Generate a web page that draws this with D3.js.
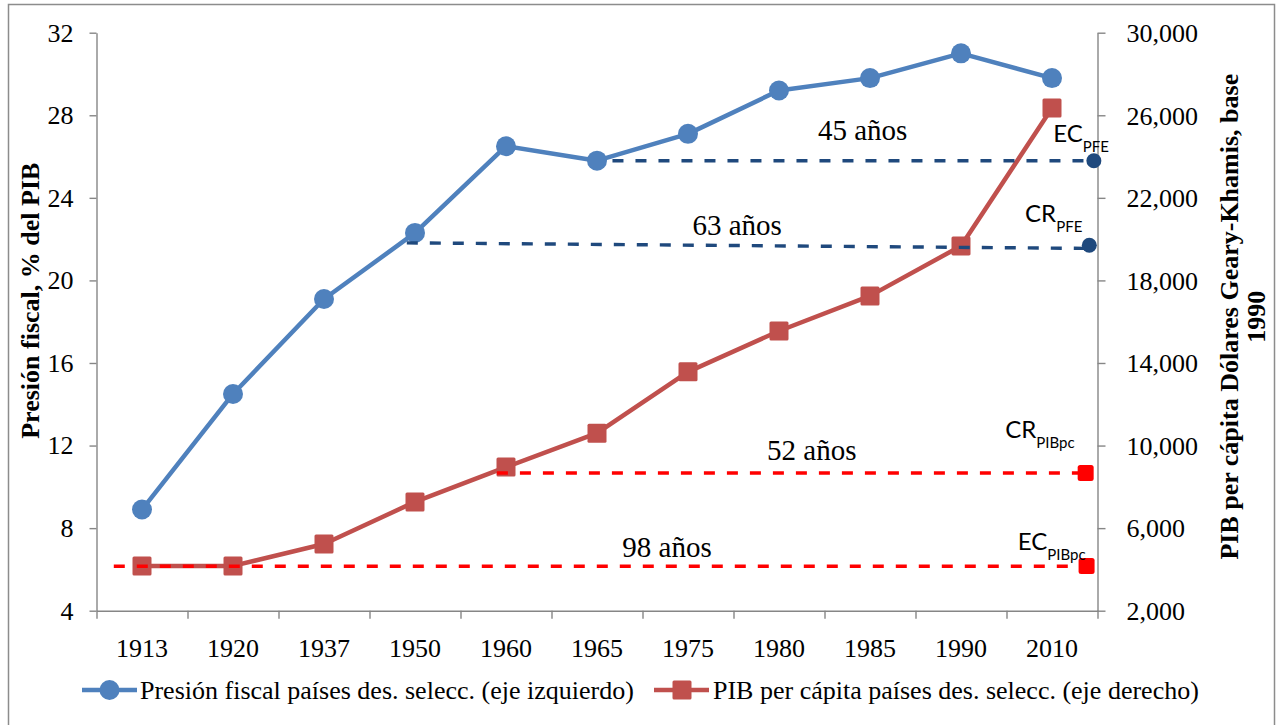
<!DOCTYPE html>
<html>
<head>
<meta charset="utf-8">
<script src="https://cdn.jsdelivr.net/npm/d3@7"></script>
<style>
  html, body { margin: 0; padding: 0; background: #ffffff; }
  svg { display: block; }
</style>
</head>
<body>
<svg id="chart" width="1278" height="725"></svg>
<script>
// ---------- DATA ----------
const categories = ["1913","1920","1937","1950","1960","1965","1975","1980","1985","1990","2010"];
const presionFiscal = [8.9, 14.5, 19.1, 22.3, 26.5, 25.8, 27.1, 29.2, 29.8, 31.0, 29.8];
const pibPerCapita = [4170, 4170, 5230, 7270, 8960, 10600, 13570, 15550, 17250, 19670, 26350];
const leftTicks = [4, 8, 12, 16, 20, 24, 28, 32];
const rightTicks = [2000, 6000, 10000, 14000, 18000, 22000, 26000, 30000];
const seriesNames = ["Presión fiscal países des. selecc. (eje izquierdo)", "PIB per cápita países des. selecc. (eje derecho)"];
const gapLabels = ["45 años", "63 años", "52 años", "98 años"];
const gapMain = ["EC", "CR", "CR", "EC"];
const gapSub = ["PFE", "PFE", "PIBpc", "PIBpc"];
const gapAxis = ["left", "left", "right", "right"];
const gapStartValue = [25.8, 21.82, 8670, 4150];
const gapEndValue = [25.8, 21.55, 8670, 4150];
const gapMarkerValue = [25.8, 21.7, 8670, 4165];
const gapStartCat = ["1965", "1950", "1960", "1913"];

// ---------- LAYOUT (positions / styles) ----------
const W = 1278, H = 725;
const plot = { left: 96.5, right: 1097.5, top: 32.7, bottom: 610.7 };
const gapLayout = [
  { startOff: 0.17, endOff: 0.46, labelOff: 2.92, labelDy: -21, tagDx: 15, tagDy: -19 },
  { startOff: -0.09, endOff: 0.41, labelOff: 3.54, labelDy: -11, tagDx: -7, tagDy: -23 },
  { startOff: -0.10, endOff: 0.37, labelOff: 3.36, labelDy: -13, tagDx: -11, tagDy: -35 },
  { startOff: -0.31, endOff: 0.38, labelOff: 5.77, labelDy: -9, tagDx: -1, tagDy: -16 }
];
const C = {
  blue: "#4F81BD", red: "#C0504D", dashBlue: "#1F497D", dashRed: "#FF0000",
  axis: "#868686", text: "#000000"
};
const serif = "'Liberation Serif', 'Times New Roman', serif";
const sans = "Lato, 'Open Sans', sans-serif";

const svg = d3.select("#chart");

// outer border
svg.append("rect")
  .attr("x", 8.5).attr("y", 4.5).attr("width", 1266).attr("height", 730)
  .attr("fill", "#fff").attr("stroke", "#8c8c8c").attr("stroke-width", 1.5);

// ---------- SCALES ----------
const x = d3.scaleBand().domain(categories).range([plot.left, plot.right]).padding(0);
const bw = x.bandwidth();
const xAt = (cat, off) => x(cat) + bw * (0.5 + off);
const xBound = d3.scaleLinear().domain([0, categories.length]).range([plot.left, plot.right]);
const yL = d3.scaleLinear().domain([4, 32]).range([plot.bottom, plot.top]);
const yR = d3.scaleLinear().domain([2000, 30000]).range([plot.bottom, plot.top]);

// ---------- AXES ----------
function styleAxis(g) {
  g.selectAll("path.domain").attr("stroke", C.axis).attr("stroke-width", 1.4);
  g.selectAll(".tick line").attr("stroke", C.axis).attr("stroke-width", 1.4);
  g.selectAll(".tick text").attr("fill", C.text).style("font-family", serif).style("font-size", "26px");
}

const gL = svg.append("g").attr("transform", `translate(${plot.left},0)`)
  .call(d3.axisLeft(yL).tickValues(leftTicks).tickSize(7).tickSizeOuter(0).tickPadding(16).tickFormat(d3.format("d")));
styleAxis(gL);

const gR = svg.append("g").attr("transform", `translate(${plot.right},0)`)
  .call(d3.axisRight(yR).tickValues(rightTicks).tickSize(8).tickSizeOuter(0).tickPadding(21).tickFormat(d3.format(",")));
styleAxis(gR);
gR.selectAll(".tick text").attr("dy", "0.34em");

const gXt = svg.append("g").attr("transform", `translate(0,${plot.bottom})`)
  .call(d3.axisBottom(xBound).tickValues(d3.range(categories.length + 1)).tickSize(8).tickSizeOuter(0).tickFormat(""));
styleAxis(gXt);

const gX = svg.append("g").attr("transform", `translate(0,${plot.bottom})`)
  .call(d3.axisBottom(x).tickSize(0).tickPadding(28));
gX.select("path.domain").remove();
styleAxis(gX);

// axis titles
svg.append("text")
  .attr("transform", `translate(39,${(plot.top + plot.bottom) / 2 - 21}) rotate(-90)`)
  .attr("text-anchor", "middle")
  .style("font-family", serif).style("font-size", "26px").style("font-weight", "bold")
  .text("Presión fiscal, % del PIB");

const rt = svg.append("text")
  .attr("transform", `translate(1238,${(plot.top + plot.bottom) / 2 - 5}) rotate(-90)`)
  .attr("text-anchor", "middle")
  .style("font-family", serif).style("font-size", "26px").style("font-weight", "bold");
rt.append("tspan").attr("x", 0).attr("y", 0).text("PIB per cápita Dólares Geary-Khamis, base");
rt.append("tspan").attr("x", 0).attr("y", 27).text("1990");

// ---------- SERIES ----------
const lineL = d3.line().x((d, i) => x(categories[i]) + bw / 2).y(d => yL(d));
const lineR = d3.line().x((d, i) => x(categories[i]) + bw / 2).y(d => yR(d));

svg.append("path").datum(presionFiscal)
  .attr("d", lineL).attr("fill", "none").attr("stroke", C.blue).attr("stroke-width", 4.5)
  .attr("stroke-linejoin", "round");
svg.selectAll("circle.pf").data(presionFiscal).enter().append("circle")
  .attr("class", "pf")
  .attr("cx", (d, i) => x(categories[i]) + bw / 2).attr("cy", d => yL(d))
  .attr("r", 10).attr("fill", C.blue);

svg.append("path").datum(pibPerCapita)
  .attr("d", lineR).attr("fill", "none").attr("stroke", C.red).attr("stroke-width", 4.5)
  .attr("stroke-linejoin", "round");
svg.selectAll("rect.pib").data(pibPerCapita).enter().append("rect")
  .attr("class", "pib")
  .attr("x", (d, i) => x(categories[i]) + bw / 2 - 9.5).attr("y", d => yR(d) - 9.5)
  .attr("width", 19).attr("height", 19).attr("rx", 1.5).attr("fill", C.red);

// ---------- GAP LINES ----------
gapLabels.forEach((lab, k) => {
  const L = gapLayout[k];
  const ys = gapAxis[k] === "left" ? yL : yR;
  const col = gapAxis[k] === "left" ? C.dashBlue : C.dashRed;
  const x1 = xAt(gapStartCat[k], L.startOff);
  const x2 = xAt(categories[categories.length - 1], L.endOff);
  const y1 = ys(gapStartValue[k]), y2 = ys(gapEndValue[k]);
  svg.append("line")
    .attr("x1", x1).attr("y1", y1).attr("x2", x2).attr("y2", y2)
    .attr("stroke", col).attr("stroke-width", 3.4).attr("stroke-dasharray", "11,12");
  const my = ys(gapMarkerValue[k]);
  if (gapAxis[k] === "left") {
    svg.append("circle").attr("cx", x2).attr("cy", my).attr("r", 7.5).attr("fill", col);
  } else {
    svg.append("rect").attr("x", x2 - 8).attr("y", my - 8).attr("width", 16).attr("height", 16)
      .attr("rx", 2.5).attr("fill", col);
  }
  // years label
  const lx = xAt(gapStartCat[k], L.labelOff);
  const lineYAtLabel = y1 + (y2 - y1) * (lx - x1) / (x2 - x1);
  svg.append("text")
    .attr("x", lx).attr("y", lineYAtLabel + L.labelDy)
    .attr("text-anchor", "middle")
    .style("font-family", serif).style("font-size", "29px").attr("fill", C.text)
    .text(lab);
  // tag (EC / CR with subscript)
  const t = svg.append("text")
    .attr("x", x2 + L.tagDx).attr("y", my + L.tagDy)
    .attr("text-anchor", "end")
    .style("font-family", sans).style("font-size", "24px").attr("fill", C.text);
  t.append("tspan").text(gapMain[k]);
  t.append("tspan").attr("dy", 10).style("font-size", "15px").text(gapSub[k]);
});

// ---------- LEGEND ----------
const legY = 690;
const leg1 = svg.append("g");
leg1.append("line").attr("x1", 82).attr("x2", 137).attr("y1", legY).attr("y2", legY)
  .attr("stroke", C.blue).attr("stroke-width", 4.5);
leg1.append("circle").attr("cx", 109.5).attr("cy", legY).attr("r", 10).attr("fill", C.blue);
leg1.append("text").attr("x", 140).attr("y", legY).attr("dy", "0.33em")
  .style("font-family", serif).style("font-size", "26px").text(seriesNames[0]);

const leg2 = svg.append("g");
leg2.append("line").attr("x1", 654).attr("x2", 709).attr("y1", legY).attr("y2", legY)
  .attr("stroke", C.red).attr("stroke-width", 4.5);
leg2.append("rect").attr("x", 682 - 9.5).attr("y", legY - 9.5).attr("width", 19).attr("height", 19)
  .attr("rx", 1.5).attr("fill", C.red);
leg2.append("text").attr("x", 713).attr("y", legY).attr("dy", "0.33em")
  .style("font-family", serif).style("font-size", "26px").text(seriesNames[1]);
</script>
</body>
</html>
